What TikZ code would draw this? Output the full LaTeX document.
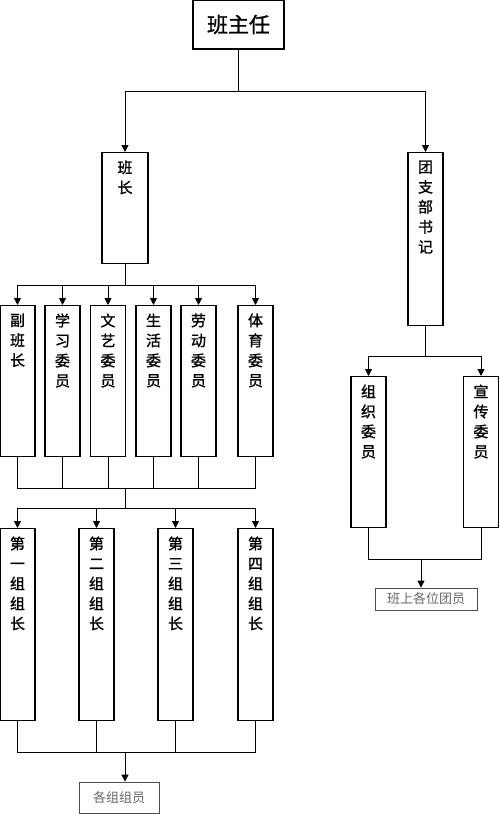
\documentclass[tikz,border=0pt]{standalone}
\usepackage{fontspec}
\newfontfamily\cjk[FakeBold=1.2]{Noto Sans CJK SC}
\newfontfamily\cjklt{Noto Sans CJK SC}
\usetikzlibrary{arrows.meta}
\newcommand{\vcol}[2]{\parbox[t][\dimexpr#1pt-17pt\relax][t]{20pt}{\centering #2}}

\begin{document}
\begin{tikzpicture}[x=1pt,y=-1pt,
  box/.style={draw,line width=1.1pt,inner sep=0pt,inner ysep=8pt,minimum width=35pt,anchor=north,
    font=\cjk\fontsize{15}{20}\selectfont},
  endbox/.style={draw=black!70,line width=.8pt,inner sep=0pt,text=black!60,
    font=\cjklt\fontsize{13}{15}\selectfont},
  ln/.style={line width=1pt},
  ar/.style={ln,-{Triangle[length=7pt,width=7pt]}}]
\useasboundingbox (0,0) rectangle (500,814);
% top
\node[draw,line width=1.2pt,minimum width=91pt,minimum height=49pt,
  font=\cjk\fontsize{21}{24}\selectfont] (zr) at (238.5,24.5) {班主任};
\node[box,minimum width=46pt] (bz) at (125,152) {\vcol{112}{班\\长}};
\node[box] (tz) at (425.5,152) {\vcol{174}{团\\支\\部\\书\\记}};
% class committee
\node[box] (fbz) at (17.5,305) {\vcol{152}{副\\班\\长}};
\node[box] (xx) at (62.5,305) {\vcol{152}{学\\习\\委\\员}};
\node[box] (wy) at (108,305) {\vcol{152}{文\\艺\\委\\员}};
\node[box] (sh) at (153.5,305) {\vcol{152}{生\\活\\委\\员}};
\node[box] (ld) at (198.5,305) {\vcol{152}{劳\\动\\委\\员}};
\node[box] (tyu) at (255.5,305) {\vcol{152}{体\\育\\委\\员}};
% group leaders
\node[box] (z1) at (17.5,528) {\vcol{193}{第\\一\\组\\组\\长}};
\node[box] (z2) at (96.5,528) {\vcol{193}{第\\二\\组\\组\\长}};
\node[box] (z3) at (175.5,528) {\vcol{193}{第\\三\\组\\组\\长}};
\node[box] (z4) at (255.5,528) {\vcol{193}{第\\四\\组\\组\\长}};
\node[endbox,minimum width=80pt,minimum height=31pt] (zy) at (119,797.5) {各组组员};
% league branch
\node[box] (zzw) at (368.5,376) {\vcol{152}{组\\织\\委\\员}};
\node[box] (xcw) at (481,376) {\vcol{152}{宣\\传\\委\\员}};
\node[endbox,minimum width=102pt,minimum height=22pt] (tuy) at (426,599) {班上各位团员};
\coordinate (m1) at (125,488);
\coordinate (m2) at (125,752);
\coordinate (m3) at (421,559);
% connectors
\draw[ar] (zr.south) -- ++(0,42) -| (bz.north);
\draw[ar] (zr.south) -- ++(0,42) -| (tz.north);
\draw[ar] (bz.south) -- ++(0,21) -| (fbz.north); \draw[ar] (bz.south) -- ++(0,21) -| (xx.north);
\draw[ar] (bz.south) -- ++(0,21) -| (wy.north); \draw[ar] (bz.south) -- ++(0,21) -| (sh.north);
\draw[ar] (bz.south) -- ++(0,21) -| (ld.north); \draw[ar] (bz.south) -- ++(0,21) -| (tyu.north);
\draw[ln] (fbz.south) |- (m1); \draw[ln] (xx.south) |- (m1); \draw[ln] (wy.south) |- (m1);
\draw[ln] (sh.south) |- (m1); \draw[ln] (ld.south) |- (m1); \draw[ln] (tyu.south) |- (m1);
\draw[ar] (m1) -- ++(0,20) -| (z1.north); \draw[ar] (m1) -- ++(0,20) -| (z2.north);
\draw[ar] (m1) -- ++(0,20) -| (z3.north); \draw[ar] (m1) -- ++(0,20) -| (z4.north);
\draw[ln] (z1.south) |- (m2); \draw[ln] (z2.south) |- (m2);
\draw[ln] (z3.south) |- (m2); \draw[ln] (z4.south) |- (m2);
\draw[ar] (m2) -- (m2 |- zy.north);
\draw[ar] (tz.south) -- ++(0,30) -| (zzw.north);
\draw[ar] (tz.south) -- ++(0,30) -| (xcw.north);
\draw[ln] (zzw.south) |- (m3); \draw[ln] (xcw.south) |- (m3);
\draw[ar] (m3) -- (m3 |- tuy.north);
\end{tikzpicture}
\end{document}
